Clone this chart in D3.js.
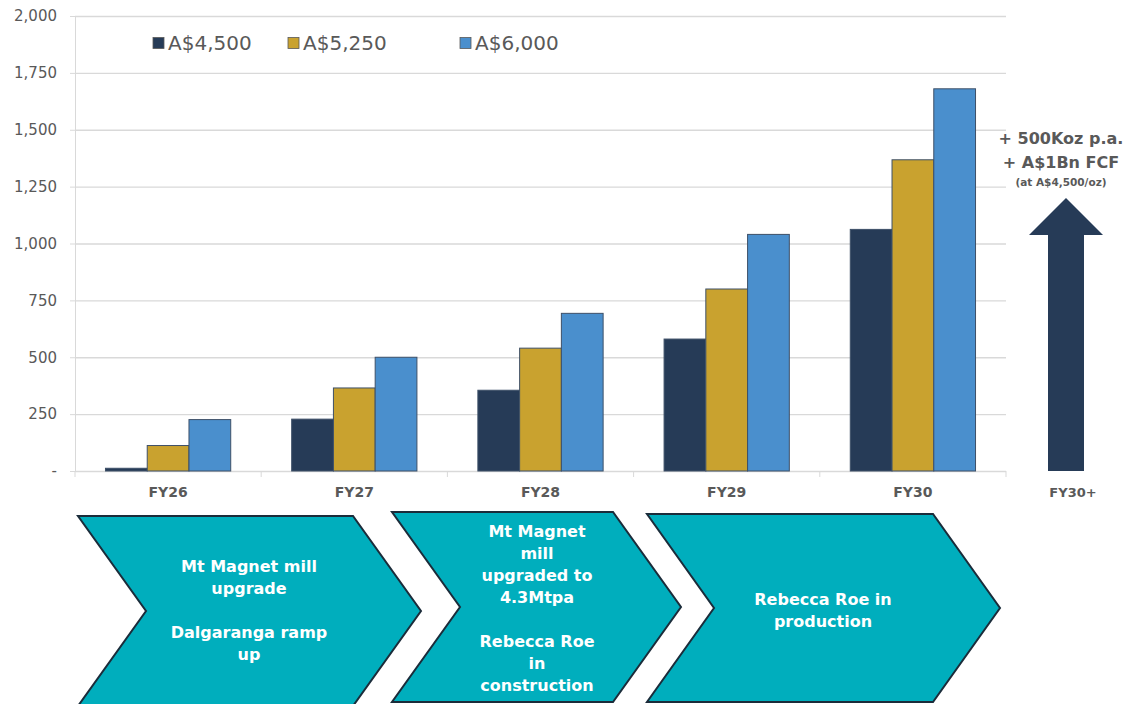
<!DOCTYPE html>
<html>
<head>
<meta charset="utf-8">
<script src="https://cdn.jsdelivr.net/npm/d3@7"></script>
<style>
  body { margin: 0; background: #fff; }
  svg { display: block; font-family: 'DejaVu Sans', sans-serif; }
  .tick text { fill: #595959; }
</style>
</head>
<body>
<div id="chart"></div>
<script>
const categories = ['FY26', 'FY27', 'FY28', 'FY29', 'FY30'];
const series = ['A$4,500', 'A$5,250', 'A$6,000'];
const values4500 = [12, 228, 355, 580, 1062];
const values5250 = [112, 365, 540, 800, 1368];
const values6000 = [226, 500, 693, 1040, 1680];
const yTicks = [0, 250, 500, 750, 1000, 1250, 1500, 1750, 2000];
const arrowLines = ['+ 500Koz p.a.', '+ A$1Bn FCF', '(at A$4,500/oz)'];
const stageText = [
  ['Mt Magnet mill', 'upgrade', '', 'Dalgaranga ramp', 'up'],
  ['Mt Magnet', 'mill', 'upgraded to', '4.3Mtpa', '', 'Rebecca Roe', 'in', 'construction'],
  ['Rebecca Roe in', 'production'],
];

const colors = ['#263b57', '#c9a22f', '#4a8fcd'];
const width = 1124;
const height = 704;
const plot = { left: 75, right: 1006, top: 16, bottom: 471 };

const svg = d3.select('#chart')
  .append('svg')
  .attr('width', width)
  .attr('height', height);

const x0 = d3.scaleBand()
  .domain(categories)
  .range([plot.left, plot.right])
  .paddingInner(0)
  .paddingOuter(0);

const x1 = d3.scaleBand()
  .domain(series)
  .range([0, x0.bandwidth()])
  .paddingInner(0)
  .paddingOuter(0.73);

const y = d3.scaleLinear()
  .domain([0, 2000])
  .range([plot.bottom, plot.top]);

// gridlines + y labels
const yAxis = svg.append('g')
  .attr('transform', `translate(${plot.left},0)`)
  .call(d3.axisLeft(y)
    .tickValues(yTicks)
    .tickSize(5)
    .tickPadding(13)
    .tickFormat(d => (d === 0 ? '-' : d3.format(',')(d))));
yAxis.select('.domain').attr('stroke', '#d9d9d9');
yAxis.selectAll('.tick line').attr('stroke', '#d9d9d9');
yAxis.selectAll('.tick text')
  .attr('font-size', 15)
  .attr('font-family', 'DejaVu Sans');
yAxis.selectAll('.tick')
  .append('line')
  .attr('x2', plot.right - plot.left)
  .attr('stroke', '#d9d9d9')
  .attr('stroke-width', 1.3);

// x axis
const xAxis = svg.append('g')
  .attr('transform', `translate(0,${plot.bottom})`);
xAxis.selectAll('line.sep')
  .data(categories.concat(['end']))
  .join('line')
  .attr('class', 'sep')
  .attr('x1', (d, i) => plot.left + i * x0.step())
  .attr('x2', (d, i) => plot.left + i * x0.step())
  .attr('y1', 0)
  .attr('y2', 6)
  .attr('stroke', '#d9d9d9');
xAxis.selectAll('text')
  .data(categories)
  .join('text')
  .attr('x', d => x0(d) + x0.bandwidth() / 2)
  .attr('y', 26)
  .attr('text-anchor', 'middle')
  .attr('font-size', 14)
  .attr('font-weight', 700)
  .attr('fill', '#595959')
  .text(d => d);

// bars
const table = categories.map((c, i) => ({
  category: c,
  values: [values4500[i], values5250[i], values6000[i]],
}));

svg.append('g')
  .selectAll('g')
  .data(table)
  .join('g')
  .attr('transform', d => `translate(${x0(d.category)},0)`)
  .selectAll('rect')
  .data(d => d.values.map((v, i) => ({ key: series[i], value: v, i })))
  .join('rect')
  .attr('x', d => x1(d.key))
  .attr('y', d => y(d.value))
  .attr('width', x1.bandwidth())
  .attr('height', d => y(0) - y(d.value))
  .attr('fill', d => colors[d.i])
  .attr('stroke', '#3e5068')
  .attr('stroke-width', 1);

// legend
const legendX = [153, 288, 460];
const legend = svg.append('g')
  .selectAll('g')
  .data(series)
  .join('g')
  .attr('transform', (d, i) => `translate(${legendX[i]},43)`);
legend.append('rect')
  .attr('x', 0)
  .attr('y', -5.5)
  .attr('width', 11)
  .attr('height', 11)
  .attr('fill', (d, i) => colors[i])
  .attr('stroke', '#595959')
  .attr('stroke-width', 0.8);
legend.append('text')
  .attr('x', 15)
  .attr('y', 7)
  .attr('font-size', 20)
  .attr('fill', '#595959')
  .text(d => d);

// FY30+ arrow
const ax = 1066;
const arrow = svg.append('g');
arrow.append('path')
  .attr('d', `M${ax},198 L${ax + 37},235 L${ax + 18},235 L${ax + 18},${plot.bottom}
    L${ax - 18},${plot.bottom} L${ax - 18},235 L${ax - 37},235 Z`)
  .attr('fill', '#263b57');
arrow.selectAll('text')
  .data(arrowLines)
  .join('text')
  .attr('x', 1061)
  .attr('y', (d, i) => [144, 168, 186][i])
  .attr('text-anchor', 'middle')
  .attr('font-size', (d, i) => (i < 2 ? 16 : 10.5))
  .attr('font-weight', 700)
  .attr('fill', '#595959')
  .text(d => d);
arrow.append('text')
  .attr('x', 1073)
  .attr('y', 497)
  .attr('text-anchor', 'middle')
  .attr('font-size', 13)
  .attr('font-weight', 700)
  .attr('fill', '#595959')
  .text('FY30+');

// stage chevrons
const chevrons = [
  { x: 78, top: 516, bottom: 706, w: 275, notch: 68, cx: 249, firstY: 572 },
  { x: 392, top: 512, bottom: 702, w: 221, notch: 68, cx: 537, firstY: 537 },
  { x: 647, top: 514, bottom: 702, w: 286, notch: 67, cx: 823, firstY: 605 },
];
const stages = svg.append('g')
  .selectAll('g')
  .data(chevrons)
  .join('g');
stages.append('path')
  .attr('d', c => {
    const mid = (c.top + c.bottom) / 2;
    return `M${c.x},${c.top} L${c.x + c.w},${c.top} L${c.x + c.w + c.notch},${mid}
      L${c.x + c.w},${c.bottom} L${c.x},${c.bottom} L${c.x + c.notch},${mid} Z`;
  })
  .attr('fill', '#00aebd')
  .attr('stroke', '#1b2c3a')
  .attr('stroke-width', 2);
stages.each(function (c, i) {
  d3.select(this).selectAll('text')
    .data(stageText[i])
    .join('text')
    .attr('x', c.cx)
    .attr('y', (d, j) => c.firstY + j * 22)
    .attr('text-anchor', 'middle')
    .attr('font-size', 16)
    .attr('font-weight', 700)
    .attr('fill', '#fff')
    .text(d => d);
});
</script>
</body>
</html>
